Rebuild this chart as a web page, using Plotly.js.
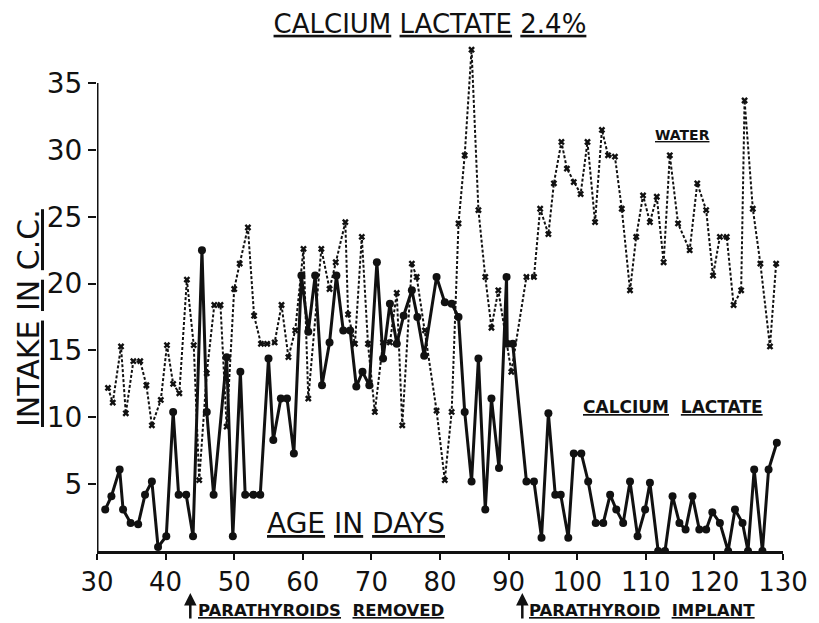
<!DOCTYPE html>
<html>
<head>
<meta charset="utf-8">
<script src="https://cdn.plot.ly/plotly-3.0.1.min.js"></script>
<style>html,body{margin:0;padding:0;background:#fff;}#chart{width:819px;height:623px;}</style>
</head>
<body>
<div id="chart"></div>
<script>
// Calcium lactate intake (c.c.) by age in days
const calciumDays = [31.2,32.1,33.3,33.8,34.9,36.0,37.0,38.0,38.9,40.1,41.1,41.9,43.0,44.0,45.3,46.0,47.0,48.9,49.8,50.9,51.6,52.8,53.8,55.0,55.7,56.8,57.7,58.7,59.8,60.8,61.8,62.8,63.9,64.9,65.9,66.9,67.8,68.7,69.7,70.8,71.7,72.7,73.7,74.7,75.9,76.7,77.7,79.5,80.7,81.7,82.7,83.6,84.6,85.6,86.6,87.5,88.6,89.7,89.8,90.6,92.6,93.7,94.8,95.8,96.8,97.6,98.7,99.5,100.6,101.6,102.7,103.8,104.8,105.7,106.7,107.7,108.8,109.9,110.6,111.8,112.8,113.9,114.9,115.8,116.8,117.8,118.8,119.7,120.8,122.0,123.0,124.1,124.9,125.8,127.0,127.9,129.1];
const calciumIntake = [3.1,4.1,6.1,3.1,2.1,2.0,4.2,5.2,0.3,1.1,10.4,4.2,4.2,1.1,22.5,10.4,4.2,14.5,1.1,13.4,4.2,4.2,4.2,14.4,8.3,11.4,11.4,7.3,20.6,16.4,20.6,12.4,15.6,20.6,16.5,16.5,12.3,13.4,12.4,21.6,14.4,18.5,15.5,17.6,19.5,17.5,14.6,20.5,18.6,18.5,17.5,10.4,5.2,14.4,3.1,11.4,6.2,20.5,15.5,15.5,5.2,5.2,1.0,10.3,4.2,4.2,1.0,7.3,7.3,5.2,2.1,2.1,4.2,3.1,2.1,5.2,1.1,3.1,5.1,0,0,4.1,2.1,1.6,4.1,1.6,1.6,2.9,2.1,0,3.1,2.1,0,6.1,0,6.1,8.1];

// Water intake (c.c.) by age in days
const waterDays = [31.6,32.3,33.5,34.2,35.3,36.3,37.2,38.0,39.3,40.2,41.1,42.0,43.1,44.1,44.9,46.0,47.1,48.0,48.9,50.0,50.8,52.0,52.9,53.9,54.8,55.9,56.9,57.9,58.9,60.1,60.8,62.7,63.9,64.8,66.2,66.6,67.6,68.6,69.5,70.5,71.7,72.7,73.7,74.5,75.9,76.6,77.8,79.5,80.7,81.7,82.7,83.6,84.6,85.6,86.6,87.5,88.5,90.4,92.6,93.7,94.6,95.8,96.6,97.7,98.5,99.5,100.5,101.5,102.6,103.6,104.5,105.5,106.5,107.7,108.6,109.6,110.6,111.6,112.6,113.5,114.7,116.4,117.5,118.8,119.8,120.8,121.8,122.8,123.9,124.4,125.6,126.7,128.1,129.0];
const waterIntake = [12.2,11.1,15.3,10.3,14.2,14.2,12.4,9.4,11.3,15.4,12.5,11.8,20.3,15.4,5.3,13.3,18.4,18.4,9.3,19.6,21.5,24.2,17.6,15.5,15.5,15.6,18.4,14.5,16.5,22.6,11.4,22.6,19.6,21.6,24.6,17.7,15.5,23.5,15.5,10.4,15.6,15.6,19.3,9.4,21.5,20.5,16.5,10.5,5.3,10.4,24.5,29.6,37.5,25.5,20.5,16.7,19.5,13.4,20.5,20.5,25.6,23.7,27.5,30.6,28.6,27.6,26.7,30.6,24.6,31.5,29.6,29.5,25.6,19.5,23.5,26.6,24.6,26.5,21.6,29.6,24.5,22.5,27.5,25.5,20.6,23.5,23.5,18.4,19.5,33.7,25.6,21.5,15.3,21.5];

const xTicks = [30,40,50,60,70,80,90,100,110,120,130];
const yTicks = [5,10,15,20,25,30,35];

const FONT = 'DejaVu Sans, Liberation Sans, sans-serif';
const L = 97, PW = 686, B0 = 551, PH = 508;
const px = v => (v - L) / PW;
const py = v => (B0 - v) / PH;

const traces = [
  {
    x: waterDays, y: waterIntake, type: 'scatter', mode: 'lines+markers', name: 'Water',
    line: {color: '#111', width: 2, dash: '3px,2px'},
    marker: {symbol: 'x', size: 6, color: '#111'}
  },
  {
    x: calciumDays, y: calciumIntake, type: 'scatter', mode: 'lines+markers', name: 'Calcium lactate',
    line: {color: '#111', width: 3},
    marker: {symbol: 'circle', size: 8, color: '#111'}
  }
];

const layout = {
  width: 819, height: 623,
  margin: {l: 97, r: 36, t: 43, b: 72},
  paper_bgcolor: '#fff', plot_bgcolor: '#fff',
  showlegend: false,
  font: {family: FONT, color: '#111'},
  title: {
    text: '<u>CALCIUM</u> <u>LACTATE</u> <u>2.4%</u>',
    font: {family: FONT, size: 26, color: '#111'},
    x: 0.525, xanchor: 'center', y: 0.962, yanchor: 'middle'
  },
  xaxis: {
    range: [30, 130], tickvals: xTicks, ticktext: xTicks.map(String),
    showgrid: false, zeroline: false,
    showline: true, linecolor: '#111', linewidth: 3,
    ticks: 'outside', ticklen: 6, tickwidth: 2, tickcolor: '#111',
    tickfont: {family: FONT, size: 26, color: '#111'}
  },
  yaxis: {
    range: [0, 38], tickvals: yTicks, ticktext: yTicks.map(String),
    showgrid: false, zeroline: false, showline: false,
    ticks: 'outside', ticklen: 8, tickwidth: 2, tickcolor: '#111',
    tickfont: {family: FONT, size: 28, color: '#111'}
  },
  shapes: [
    {type: 'line', xref: 'x', yref: 'y', x0: 30, x1: 30, y0: 0, y1: 35, line: {color: '#111', width: 3}}
  ],
  annotations: [
    {text: '<u>INTAKE</u> <u>IN</u> <u>C.C.</u>', xref: 'paper', yref: 'paper', textangle: -90,
     x: px(29), y: py(318), xanchor: 'center', yanchor: 'middle', showarrow: false,
     font: {family: FONT, size: 30, color: '#111'}},
    {text: '<u>AGE</u> <u>IN</u> <u>DAYS</u>', xref: 'paper', yref: 'paper',
     x: px(356), y: py(523), xanchor: 'center', yanchor: 'middle', showarrow: false,
     font: {family: FONT, size: 28, color: '#111'}},
    {text: '<b><u>WATER</u></b>', xref: 'paper', yref: 'paper',
     x: px(682), y: py(135), xanchor: 'center', yanchor: 'middle', showarrow: false,
     font: {family: FONT, size: 14, color: '#111'}},
    {text: '<b><u>CALCIUM</u>  <u>LACTATE</u></b>', xref: 'paper', yref: 'paper',
     x: px(673), y: py(407), xanchor: 'center', yanchor: 'middle', showarrow: false,
     font: {family: FONT, size: 17, color: '#111'}},
    {text: '<b><u>PARATHYROIDS</u>  <u>REMOVED</u></b>', xref: 'paper', yref: 'paper',
     x: px(196), y: py(610), xanchor: 'left', yanchor: 'middle', showarrow: false,
     font: {family: FONT, size: 16.5, color: '#111'}},
    {text: '<b><u>PARATHYROID</u>  <u>IMPLANT</u></b>', xref: 'paper', yref: 'paper',
     x: px(527), y: py(610), xanchor: 'left', yanchor: 'middle', showarrow: false,
     font: {family: FONT, size: 16.5, color: '#111'}},
    {text: '', xref: 'x', yref: 'paper', x: 43.6, y: py(593), ax: 0, ay: 27,
     showarrow: true, arrowhead: 2, arrowsize: 1, arrowwidth: 2.5, arrowcolor: '#111'},
    {text: '', xref: 'x', yref: 'paper', x: 92.0, y: py(593), ax: 0, ay: 27,
     showarrow: true, arrowhead: 2, arrowsize: 1, arrowwidth: 2.5, arrowcolor: '#111'}
  ]
};

Plotly.newPlot('chart', traces, layout, {displayModeBar: false, staticPlot: true});
</script>
</body>
</html>
